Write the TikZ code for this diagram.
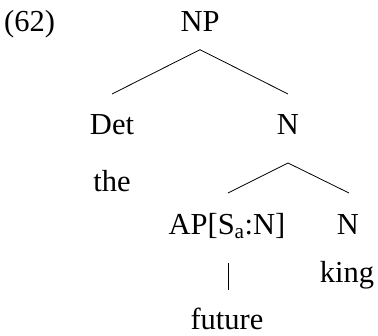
\documentclass[tikz,border=0pt]{standalone}
\usepackage{fontspec}
\setmainfont{Liberation Serif}
\tikzset{
  cat/.style={font=\fontsize{30.5}{34}\selectfont, inner sep=0pt, anchor=base},
  branch/.style={line width=0.8pt},
}
\begin{document}
\begin{tikzpicture}[x=1pt,y=-1pt]
\useasboundingbox (0,0) rectangle (378,336);
\node[cat, anchor=base west] (ex) at (4,31.7) {(62)};
\node[cat] (np) at (200,31.7) {NP}; % racine
\node[cat] (det) at (112,135) {Det};
\node[cat] (n1) at (288,135) {N};
\node[cat] (the) at (112,192) {the};
\node[cat] (ap) at (227,235) {AP[S\textsubscript{a}:N]};
\node[cat] (n2) at (348,235) {N};
\node[cat] (king) at (347,283) {king};
\node[cat] (future) at (227,330) {future};
\draw[branch] ([yshift=-18pt]np.base) -- ([yshift=41pt]det.base);
\draw[branch] ([yshift=-18pt]np.base) -- ([yshift=41pt]n1.base);
\draw[branch] ([yshift=-28pt]n1.base) -- ([xshift=1pt,yshift=42pt]ap.base);
\draw[branch] ([yshift=-28pt]n1.base) -- ([xshift=1pt,yshift=42pt]n2.base);
\draw[branch] ([xshift=1pt,yshift=-28pt]ap.base) -- ([xshift=1pt,yshift=40pt]future.base);
\end{tikzpicture}
\end{document}
